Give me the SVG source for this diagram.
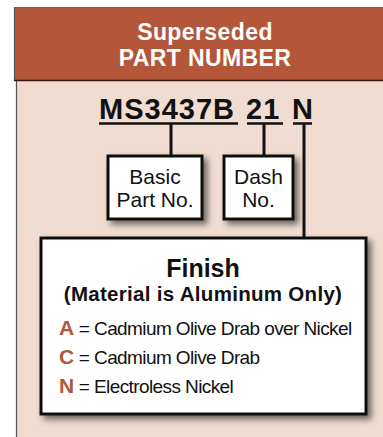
<svg xmlns="http://www.w3.org/2000/svg" width="383" height="437" viewBox="0 0 383 437">
<defs>
<filter id="sh" x="-20%" y="-20%" width="150%" height="150%">
<feDropShadow dx="4" dy="4" stdDeviation="3" flood-color="#000" flood-opacity="0.55"/>
</filter>
</defs>
<style>
text{font-family:"Liberation Sans",Arial,sans-serif;fill:#111}
.hd{fill:#fff;font-weight:bold;font-size:23px;text-anchor:middle;letter-spacing:0.4px}
.pn{font-weight:bold;font-size:29px;letter-spacing:1px}
.box{fill:#fff;stroke:#111;stroke-width:3}
.lbl{font-size:21px;text-anchor:middle}
.ln{stroke:#111;stroke-width:3;fill:none}
.ul{stroke:#111;stroke-width:2.5}
.item{font-size:19px;letter-spacing:-0.6px}
.key{font-weight:bold;fill:#b35639;font-size:21px;letter-spacing:0}
</style>
<rect x="16.5" y="81" width="370" height="360" fill="#f0dcd1"/>
<line x1="16.5" y1="81" x2="16.5" y2="437" stroke="#555" stroke-width="1.2"/>
<g id="header">
<rect x="14" y="7" width="372" height="74" fill="#b35639"/>
<line x1="14" y1="7.5" x2="383" y2="7.5" stroke="#666" stroke-width="1.2"/>
<line x1="14.5" y1="7" x2="14.5" y2="81" stroke="#555" stroke-width="1.2"/>
<line x1="14" y1="80.5" x2="383" y2="80.5" stroke="#3a1a10" stroke-width="1.4"/>
<text class="hd" x="205" y="40">Superseded</text>
<text class="hd" x="205" y="66">PART NUMBER</text>
</g>
<g id="partnumber">
<text class="pn" x="99" y="119">MS3437B</text>
<text class="pn" x="246" y="119">21</text>
<text class="pn" x="292" y="119">N</text>
<line class="ul" x1="99" y1="123.5" x2="238" y2="123.5"/>
<line class="ul" x1="247" y1="123.5" x2="283" y2="123.5"/>
<line class="ul" x1="293" y1="123.5" x2="312" y2="123.5"/>
</g>
<g id="connectors">
<line class="ln" x1="171" y1="123" x2="171" y2="155"/>
<line class="ln" x1="264" y1="123" x2="264" y2="155"/>
<line class="ln" x1="304" y1="123" x2="304" y2="238"/>
</g>
<g id="basic">
<rect class="box" x="108" y="156" width="94" height="63" filter="url(#sh)"/>
<text class="lbl" x="155" y="184">Basic</text>
<text class="lbl" x="155" y="207">Part No.</text>
</g>
<g id="dash">
<rect class="box" x="224" y="156" width="69" height="63" filter="url(#sh)"/>
<text class="lbl" x="258.5" y="184">Dash</text>
<text class="lbl" x="258.5" y="207">No.</text>
</g>
<g id="finish">
<rect class="box" x="41" y="238" width="325" height="176" filter="url(#sh)"/>
<text x="203" y="277" font-size="25" font-weight="bold" text-anchor="middle">Finish</text>
<text x="203" y="301" font-size="20.5" font-weight="bold" text-anchor="middle" letter-spacing="0.3">(Material is Aluminum Only)</text>
<text class="item" x="59" y="335"><tspan class="key">A</tspan> = Cadmium Olive Drab over Nickel</text>
<text class="item" x="59" y="364"><tspan class="key">C</tspan> = Cadmium Olive Drab</text>
<text class="item" x="59" y="393"><tspan class="key">N</tspan> = Electroless Nickel</text>
</g>
</svg>
